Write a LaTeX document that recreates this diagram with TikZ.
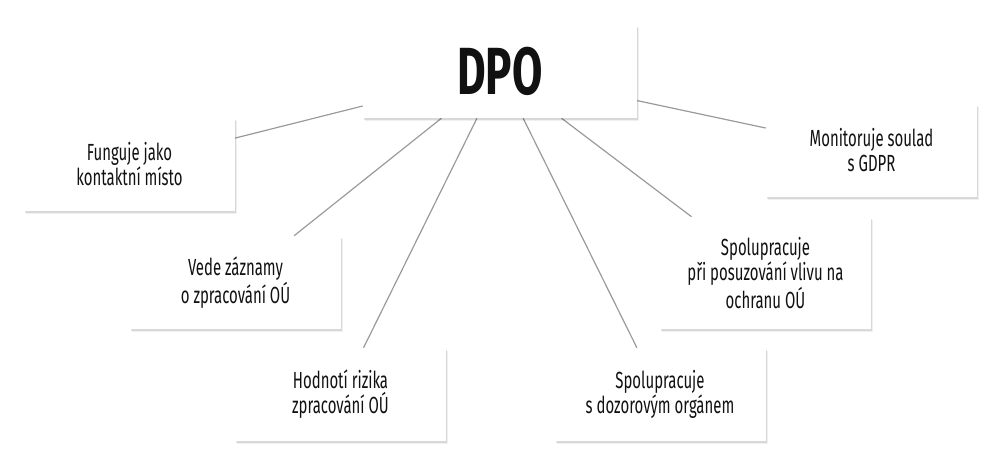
\documentclass[tikz,border=0pt]{standalone}
\usepackage{fontspec}
\setmainfont{Fira Sans}[FakeStretch=0.64]
\newfontfamily\hubfont{Fira Sans}[FakeStretch=0.66]
\usepackage{xcolor}
\definecolor{ink}{HTML}{111111}
\definecolor{wire}{HTML}{9A9A9A}
\usetikzlibrary{shadows, backgrounds}

\begin{document}
\begin{tikzpicture}[
  x=0.75pt, y=0.75pt,
  every node/.style={align=center},
  card/.style={rectangle, fill=white, text=ink, inner sep=4pt,
    minimum width=158.25pt, minimum height=69.75pt,
    font=\fontsize{17.5}{18.75}\selectfont,
    drop shadow={shadow xshift=1.5pt, shadow yshift=-2.2pt, opacity=0.06, fill=black},
    drop shadow={shadow xshift=0.8pt, shadow yshift=-1.2pt, opacity=0.1, fill=black}},
  hubCard/.style={card, minimum width=205.5pt, font=\hubfont\fontsize{50}{54}\selectfont\bfseries},
  tallCard/.style={card, minimum height=84pt},
  link/.style={draw=wire, line width=0.9pt},
]
\useasboundingbox (0,0) rectangle (1000,-467);

% ------------------- Centre -------------------
\node[hubCard] (dpo) at (500,-71.5) {DPO};

% ------------------- Left side -------------------
\node[card] (contact) at (129.5,-164.5) {Funguje jako\\kontaktní místo};
\node[card] (records) at (235.5,-282.5) {Vede záznamy\\o zpracování OÚ};
\node[card] (risk)    at (340.5,-394.5) {Hodnotí rizika\\zpracování OÚ};

% ------------------- Right side -------------------
\node[card]     (authority)  at (660,-394.5)   {Spolupracuje\\s dozorovým orgánem};
\node[tallCard] (impact)     at (765.5,-273)   {Spolupracuje\\při posuzování vlivu na\\ochranu OÚ};
\node[card]     (compliance) at (871.5,-150.5) {Monitoruje soulad\\s GDPR};

% Spokes behind the cards
\begin{pgfonlayer}{background}
  \foreach \leaf in {contact, records, risk, authority, impact, compliance}
    \draw[link] (dpo) -- (\leaf);
\end{pgfonlayer}

\end{tikzpicture}
\end{document}
